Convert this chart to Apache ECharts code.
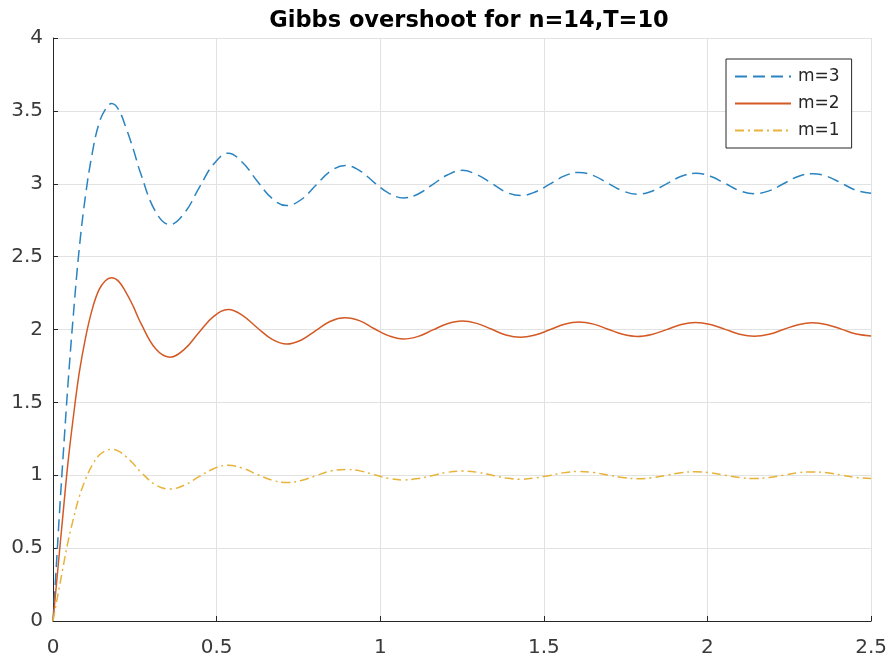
<!DOCTYPE html>
<html>
<head>
<meta charset="utf-8">
<title>Gibbs overshoot</title>
<script src="https://cdn.jsdelivr.net/npm/echarts@6/dist/echarts.min.js"></script>
<style>
  html, body { margin: 0; padding: 0; background: #fff; }
  #chart { width: 890px; height: 661px; }
</style>
</head>
<body>
<div id="chart"></div>
<script>
// sample positions along t (dense at the start, eighth-period after the first peak)
const tValues = [
  0, 0.01, 0.02, 0.03, 0.045, 0.06, 0.08, 0.1, 0.12, 0.14, 0.16,
  0.179, 0.2, 0.223, 0.245, 0.268, 0.313, 0.357, 0.402, 0.446, 0.491,
  0.536, 0.580, 0.625, 0.670, 0.714, 0.759, 0.804, 0.848,
  0.893, 0.938, 0.982, 1.027, 1.071, 1.116, 1.161, 1.205,
  1.250, 1.295, 1.339, 1.384, 1.429, 1.473, 1.518, 1.563,
  1.607, 1.652, 1.696, 1.741, 1.786, 1.830, 1.875, 1.920,
  1.964, 2.009, 2.054, 2.098, 2.143, 2.188, 2.232, 2.277,
  2.321, 2.366, 2.411, 2.455, 2.500
]

const m3Values = [
  0, 0.37, 0.75, 1.1, 1.6, 2.04, 2.55, 2.93, 3.21, 3.41, 3.51,
  3.55, 3.51, 3.385, 3.24, 3.07, 2.81, 2.72, 2.80, 2.97, 3.135,
  3.21, 3.144, 3.015, 2.898, 2.85, 2.892, 2.991, 3.086,
  3.125, 3.089, 3.008, 2.934, 2.903, 2.93, 2.996, 3.06,
  3.092, 3.063, 3.005, 2.943, 2.919, 2.943, 2.997, 3.054,
  3.078, 3.056, 3.003, 2.951, 2.928, 2.949, 2.999, 3.051,
  3.072, 3.051, 3.002, 2.952, 2.931, 2.951, 3.0, 3.05,
  3.069, 3.05, 3.002, 2.954, 2.934
]

const m2Values = [
  0, 0.24, 0.48, 0.72, 1.07, 1.36, 1.70, 1.95, 2.14, 2.27, 2.335,
  2.355, 2.332, 2.255, 2.16, 2.045, 1.869, 1.81, 1.865, 1.98, 2.09,
  2.138, 2.096, 2.01, 1.932, 1.90, 1.928, 1.994, 2.057,
  2.08, 2.059, 2.005, 1.956, 1.935, 1.953, 1.997, 2.04,
  2.058, 2.042, 2.003, 1.962, 1.946, 1.962, 1.998, 2.036,
  2.052, 2.037, 2.002, 1.967, 1.952, 1.966, 1.999, 2.034,
  2.048, 2.034, 2.001, 1.968, 1.954, 1.967, 2.0, 2.033,
  2.046, 2.033, 2.001, 1.969, 1.956
]

const m1Values = [
  0, 0.12, 0.24, 0.36, 0.535, 0.68, 0.85, 0.975, 1.07, 1.135, 1.168,
  1.178, 1.166, 1.128, 1.08, 1.023, 0.935, 0.905, 0.933, 0.99, 1.045,
  1.069, 1.048, 1.005, 0.966, 0.95, 0.964, 0.997, 1.029,
  1.04, 1.03, 1.003, 0.978, 0.968, 0.977, 0.999, 1.02,
  1.029, 1.021, 1.002, 0.981, 0.973, 0.981, 0.999, 1.018,
  1.026, 1.019, 1.001, 0.984, 0.976, 0.983, 1.0, 1.017,
  1.024, 1.017, 1.0, 0.984, 0.977, 0.984, 1.0, 1.017,
  1.023, 1.017, 1.0, 0.985, 0.978
]

const seriesNames = ['m=3', 'm=2', 'm=1']

const pairs = ys => tValues.map((t, i) => [t, ys[i]])

const axisColor = '#262626'
const gridColor = '#e2e2e2'
const font = 'DejaVu Sans'

const chart = echarts.init(document.getElementById('chart'), null, { renderer: 'canvas' })

chart.setOption({
  animation: false,
  backgroundColor: '#fff',
  title: {
    text: 'Gibbs overshoot for n=14,T=10',
    left: 464,
    top: 5,
    textAlign: 'center',
    textStyle: { fontFamily: font, fontSize: 22.5, fontWeight: 'bold', color: '#000' }
  },
  grid: { left: 53, right: 17, top: 38, bottom: 40 },
  legend: {
    orient: 'vertical',
    left: 726,
    top: 59,
    data: seriesNames,
    itemWidth: 56,
    itemHeight: 14,
    itemGap: 10,
    padding: [9, 12, 9, 8],
    backgroundColor: '#fff',
    borderColor: axisColor,
    borderWidth: 1,
    borderRadius: 0,
    itemStyle: { opacity: 0 },
    textStyle: { fontFamily: font, fontSize: 17, color: axisColor, padding: [0, 0, 0, 2] }
  },
  xAxis: {
    type: 'value',
    min: 0,
    max: 2.5,
    interval: 0.5,
    axisLine: { show: true, onZero: false, lineStyle: { color: axisColor, width: 1 } },
    axisTick: { show: true, inside: true, length: 5, lineStyle: { color: axisColor } },
    axisLabel: { margin: 17, fontFamily: font, fontSize: 20, color: '#3a3a3a', showMaxLabel: true, showMinLabel: true },
    splitLine: { show: true, lineStyle: { color: gridColor, width: 1 } }
  },
  yAxis: {
    type: 'value',
    min: 0,
    max: 4,
    interval: 0.5,
    axisLine: { show: true, onZero: false, lineStyle: { color: axisColor, width: 1 } },
    axisTick: { show: true, inside: true, length: 5, lineStyle: { color: axisColor } },
    axisLabel: { margin: 10, fontFamily: font, fontSize: 20, color: '#3a3a3a', showMaxLabel: true, showMinLabel: true },
    splitLine: { show: true, lineStyle: { color: gridColor, width: 1 } }
  },
  series: [
    {
      name: seriesNames[0],
      type: 'line',
      data: pairs(m3Values),
      smooth: 0.4,
      symbol: 'none',
      color: '#2a84c0',
      lineStyle: { color: '#2a84c0', width: 1.5, type: [12, 6] }
    },
    {
      name: seriesNames[1],
      type: 'line',
      data: pairs(m2Values),
      smooth: 0.4,
      symbol: 'none',
      color: '#d45a25',
      lineStyle: { color: '#d45a25', width: 1.5, type: 'solid' }
    },
    {
      name: seriesNames[2],
      type: 'line',
      data: pairs(m1Values),
      smooth: 0.4,
      symbol: 'none',
      color: '#e7b33a',
      lineStyle: { color: '#e7b33a', width: 1.5, type: [9, 4, 2, 4] }
    }
  ]
})
</script>
</body>
</html>
